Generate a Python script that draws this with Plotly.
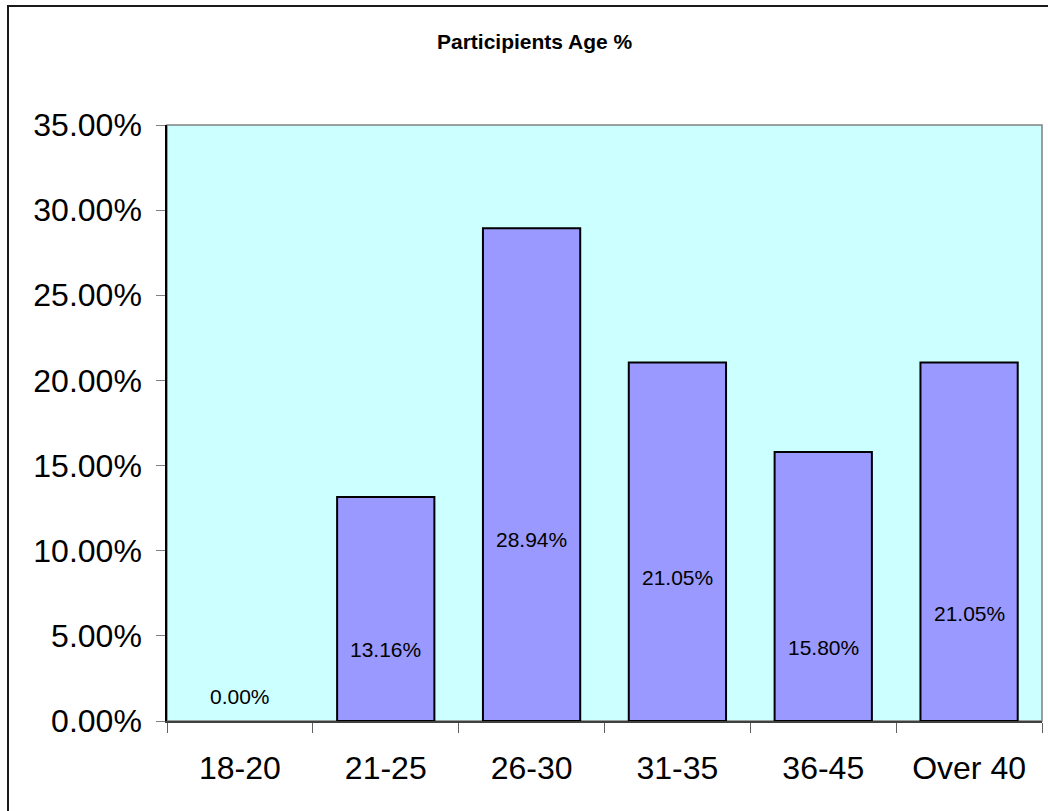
import plotly.graph_objects as go

# Age groups and share of participants (%)
age_groups = ["18-20", "21-25", "26-30", "31-35", "36-45", "Over 40"]
shares = [0.00, 13.16, 28.94, 21.05, 15.80, 21.05]
y_ticks = [0, 5, 10, 15, 20, 25, 30, 35]

# Vertical placement of each value label (in axis units)
label_y = [1.41, 4.17, 10.63, 8.40, 4.29, 6.34]

W, H = 1048, 811
L, R, T, B = 167, 6, 125, 90
pw, ph = W - L - R, H - T - B

fig = go.Figure()
fig.add_trace(go.Bar(
    x=age_groups,
    y=shares,
    marker=dict(
        color="#9999FF",
        line=dict(color="#000000", width=[2 if v > 0 else 0 for v in shares]),
    ),
    width=0.667,
    hoverinfo="skip",
))

for g, v, ly in zip(age_groups, shares, label_y):
    fig.add_annotation(
        x=g, y=ly, xref="x", yref="y",
        text=f"{v:.2f}%", showarrow=False,
        font=dict(family="Liberation Sans, Arial", size=21, color="#000000"),
    )

# Chart title
fig.add_annotation(
    x=(535 - L) / pw, y=(H - B - 42) / ph, xref="paper", yref="paper",
    text="<b>Participients Age %</b>", showarrow=False,
    xanchor="center", yanchor="middle",
    font=dict(family="Liberation Sans, Arial", size=21, color="#000000"),
)

# Plot-area frame (top/right in grey)
fig.add_shape(type="rect", xref="paper", yref="paper", x0=0, x1=1, y0=0, y1=1,
              line=dict(color="#808080", width=1.5), layer="below")

# Outer chart border
fig.add_shape(type="rect", xref="paper", yref="paper",
              x0=(8 - L) / pw, x1=(W + 10 - L) / pw,
              y0=(H - B - (H + 10)) / ph, y1=(H - B - 6) / ph,
              line=dict(color="#1a1a1a", width=2))

fig.update_layout(
    width=W, height=H,
    margin=dict(l=L, r=R, t=T, b=B),
    paper_bgcolor="#FFFFFF",
    plot_bgcolor="#CCFFFF",
    showlegend=False,
    bargap=0.333,
    font=dict(family="Liberation Sans, Arial", color="#000000"),
)

fig.update_xaxes(
    type="category",
    tickson="boundaries",
    ticks="outside", ticklen=10, tickcolor="#606060", tickwidth=1,
    showline=True, linecolor="#404040", linewidth=1.5,
    showgrid=False, zeroline=False,
    tickfont=dict(family="Liberation Sans, Arial", size=32, color="#000000"),
    ticklabelstandoff=18,
)

fig.update_yaxes(
    range=[0, 35],
    tickvals=y_ticks,
    ticktext=[f"{t:.2f}%" for t in y_ticks],
    ticks="outside", ticklen=9, tickcolor="#808080", tickwidth=1,
    showline=True, linecolor="#000000", linewidth=1.5,
    showgrid=False, zeroline=False,
    tickfont=dict(family="Liberation Sans, Arial", size=32, color="#000000"),
    ticklabelstandoff=8,
)

fig.write_html("out.html")
